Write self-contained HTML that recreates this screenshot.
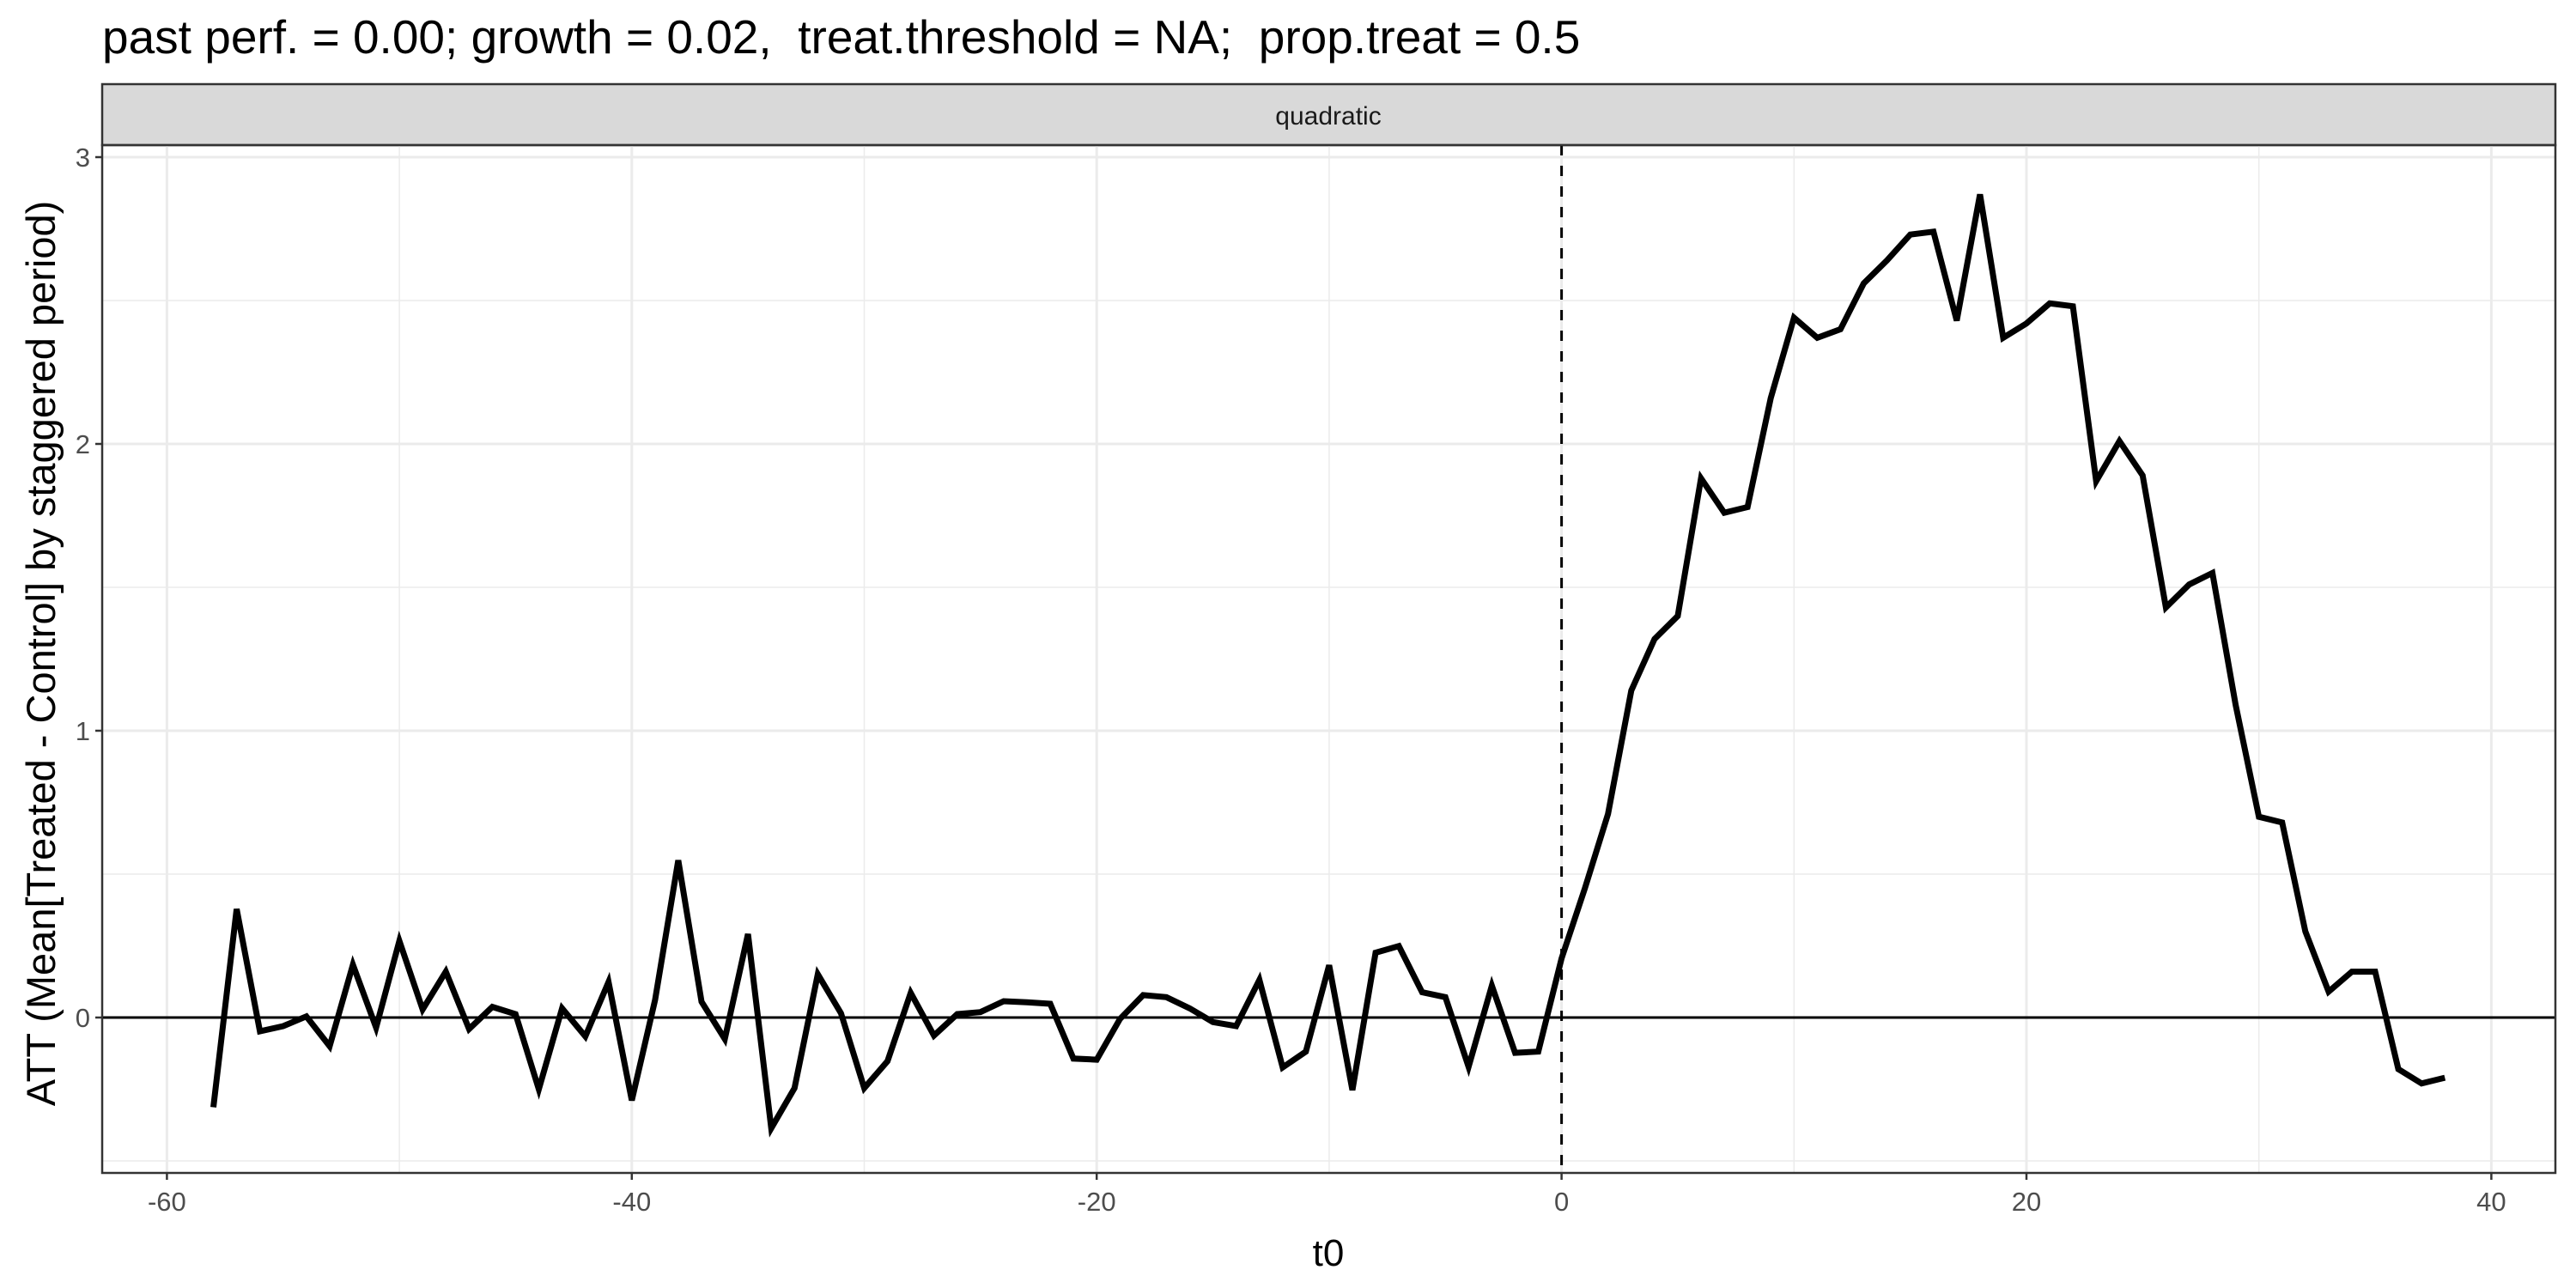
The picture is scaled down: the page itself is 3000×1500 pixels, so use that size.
<!DOCTYPE html>
<html><head><meta charset="utf-8"><style>
html,body{margin:0;padding:0;background:#fff;}
svg{display:block;font-family:"Liberation Sans",Arial,sans-serif;}
</style></head><body>
<svg id="chart" width="3000" height="1500" viewBox="0 0 3000 1500">
<text x="119" y="62" font-size="55" fill="#000" style="white-space:pre">past perf. = 0.00; growth = 0.02,&#160; treat.threshold = NA;&#160; prop.treat = 0.5</text>
<rect x="119" y="98" width="2857" height="71" fill="#d9d9d9" stroke="#333" stroke-width="2.5"/>
<text x="1547" y="145" font-size="30" fill="#1a1a1a" text-anchor="middle">quadratic</text>
<g id="grid"></g>
<g id="marks"></g>
<rect x="119" y="169" width="2857" height="1197" fill="none" stroke="#333" stroke-width="2.5"/>
<g id="axes"></g>
<text x="1547" y="1474" font-size="44" text-anchor="middle" fill="#000">t0</text>
<text transform="translate(64,761) rotate(-90)" font-size="47" text-anchor="middle" fill="#000">ATT (Mean[Treated - Control] by staggered period)</text>
</svg>
<script>
const t0 = [];
for (let i = -58; i <= 38; i++) t0.push(i);
const att = [-0.313,0.378,-0.048,-0.03,0.004,-0.10,0.184,-0.035,0.267,0.028,0.16,-0.04,0.037,0.012,-0.25,0.032,-0.066,0.124,-0.289,0.061,0.548,0.055,-0.075,0.291,-0.386,-0.246,0.151,0.015,-0.246,-0.152,0.086,-0.063,0.012,0.019,0.057,0.053,0.048,-0.143,-0.147,-0.005,0.078,0.071,0.032,-0.016,-0.03,0.131,-0.174,-0.119,0.182,-0.253,0.226,0.249,0.088,0.071,-0.172,0.111,-0.123,-0.119,
0.206,0.45,0.71,1.14,1.32,1.40,1.88,1.76,1.78,2.16,2.44,2.37,2.40,2.56,2.64,2.73,2.74,2.43,2.87,2.37,2.42,2.49,2.48,1.87,2.01,1.89,1.43,1.51,1.55,1.09,0.70,0.68,0.30,0.09,0.16,0.16,-0.18,-0.23,-0.21];
const xTicks = [-60,-40,-20,0,20,40];
const xMinor = [-50,-30,-10,10,30];
const yTicks = [0,1,2,3];
const yMinor = [-0.5,0.5,1.5,2.5];
const NS = "http://www.w3.org/2000/svg";
const L = 119, R = 2976, T = 169, B = 1366;
function xs(v){ return 1818.6 + 27.07 * v; }
function ys(v){ return 1185 - 334 * v; }
function mk(tag, attrs, parent){ const e = document.createElementNS(NS, tag); for (const k in attrs) e.setAttribute(k, attrs[k]); parent.appendChild(e); return e; }
const grid = document.getElementById('grid'), marks = document.getElementById('marks'), axes = document.getElementById('axes');
yMinor.forEach(v => { const e = mk('line',{x1:L,x2:R,y1:ys(v),y2:ys(v),stroke:'#ebebeb','stroke-width':1.5},grid);

 });
xMinor.forEach(v => { const e = mk('line',{x1:xs(v),x2:xs(v),y1:T,y2:B,stroke:'#ebebeb','stroke-width':1.5},grid);

 });
yTicks.forEach(v => { const e = mk('line',{x1:L,x2:R,y1:ys(v),y2:ys(v),stroke:'#ebebeb','stroke-width':3},grid);


const tk = mk('line',{x1:L-8,x2:L,y1:ys(v),y2:ys(v),stroke:'#333','stroke-width':2.5},axes);


const tx = mk('text',{x:L-14,y:ys(v)+11,'font-size':31,fill:'#4d4d4d','text-anchor':'end'},axes); tx.textContent = v;

 });
xTicks.forEach(v => { const e = mk('line',{x1:xs(v),x2:xs(v),y1:T,y2:B,stroke:'#ebebeb','stroke-width':3},grid);


const tk = mk('line',{x1:xs(v),x2:xs(v),y1:B,y2:B+8,stroke:'#333','stroke-width':2.5},axes);


const tx = mk('text',{x:xs(v),y:B+44,'font-size':31,fill:'#4d4d4d','text-anchor':'middle'},axes); tx.textContent = v;

 });
const h = mk('line',{x1:L,x2:R,y1:ys(0),y2:ys(0),stroke:'#000','stroke-width':3},marks);


const vl = mk('line',{x1:xs(0),x2:xs(0),y1:T,y2:B,stroke:'#000','stroke-width':3,'stroke-dasharray':'12 12'},marks);


const pts = t0.map((t,i) => xs(t).toFixed(1) + ',' + ys(att[i]).toFixed(1)).join(' ');
const pl = mk('polyline',{points:pts,fill:'none',stroke:'#000','stroke-width':7,'stroke-linejoin':'miter','stroke-miterlimit':4},marks);


</script>
</body></html>
